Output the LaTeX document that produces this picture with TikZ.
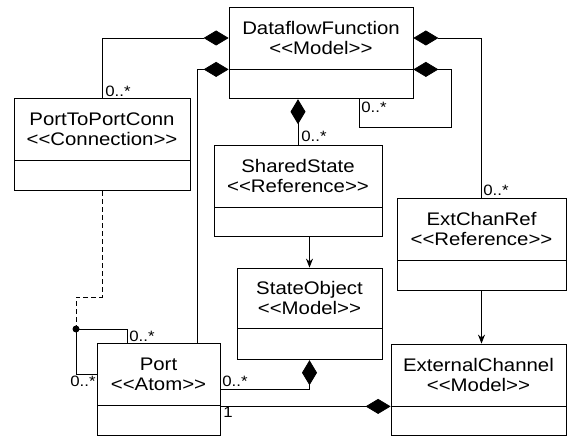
\documentclass[tikz,border=0pt]{standalone}
\usepackage{fontspec}
\newfontfamily\umlfont[FakeStretch=1.12]{Liberation Sans}
\usetikzlibrary{arrows.meta,positioning}

\tikzset{
  cls/.style={draw, inner sep=0pt, align=center, minimum height=62pt,
    font=\umlfont\fontsize{18.2}{20}\selectfont},
  clsbot/.style={draw, inner sep=0pt, minimum height=30pt},
  comp/.style={{Diamond[length=25pt,width=15pt]}-},
  dep/.style={-{Stealth[length=9pt,width=7pt]}},
  mult/.style={inner sep=0pt, font=\umlfont\fontsize{15}{15}\selectfont},
}

\begin{document}
\begin{tikzpicture}[x=1pt,y=-1pt,line width=0.8pt]
    \useasboundingbox (0,0) rectangle (571,438);
    % classes
    \node [cls, minimum width=184pt] (dff) at (321,38) {DataflowFunction\\<<Model>>};
    \node [clsbot, minimum width=184pt, minimum height=29pt, below=0pt of dff] (dffb) {};
    \node [cls, minimum width=176pt] (ptp) at (102,129) {PortToPortConn\\<<Connection>>};
    \node [clsbot, minimum width=176pt, below=0pt of ptp] (ptpb) {};
    \node [cls, minimum width=168pt] (ss) at (298,176) {SharedState\\<<Reference>>};
    \node [clsbot, minimum width=168pt, minimum height=29pt, below=0pt of ss] (ssb) {};
    \node [cls, minimum width=169pt] (ecr) at (481.5,229) {ExtChanRef\\<<Reference>>};
    \node [clsbot, minimum width=169pt, below=0pt of ecr] (ecrb) {};
    \node [cls, minimum width=145pt, minimum height=60pt] (so) at (309.5,298) {StateObject\\<<Model>>};
    \node [clsbot, minimum width=145pt, minimum height=31pt, below=0pt of so] (sob) {};
    \node [cls, minimum width=123pt] (port) at (158.5,374) {Port\\<<Atom>>};
    \node [clsbot, minimum width=123pt, below=0pt of port] (portb) {};
    \node [cls, minimum width=175pt] (ec) at (478.5,375) {ExternalChannel\\<<Model>>};
    \node [clsbot, minimum width=175pt, minimum height=29pt, below=0pt of ec] (ecb) {};

    % compositions
    \draw [comp] (dff.west) -| (ptp.north);
    \draw [comp] (dff.south west) -| ([xshift=-23pt]port.north east);
    \draw [comp] (ss.north |- dffb.south) -- (ss.north);
    \coordinate (loopin) at ([xshift=38pt]dffb.south);
    \draw [comp] (dff.south east) -- ++(38,0) -- ++(0,58) -| (loopin);
    \draw [comp] (dff.east) -| (ecr.north);
    \draw [comp] (sob.south) |- ([yshift=-15pt]port.east);
    \draw [comp] (ec.south west) -- (ec.south west -| port.east);

    % references
    \draw [dep] (ecrb.south) -- (ecrb.south |- ec.north);
    \draw [dep] (so.north |- ssb.south) -- (so.north);

    % port to port
    \coordinate (pjoin) at (76,329);
    \draw ([xshift=31pt]port.north west) |- (pjoin) |- (port.west);
    \fill (pjoin) circle (3.5pt);
    \draw [dashed, dash pattern=on 5pt off 3pt] (ptpb.south) -- ++(0,106) -| (pjoin);

    % multiplicities
    \node [mult, anchor=south west] (m1) at (105,97) {0..*};
    \node [mult, anchor=south west] (m2) at (301,142) {0..*};
    \node [mult, anchor=north west] (m3) at (361,102) {0..*};
    \node [mult, anchor=south west] (m4) at (483,196) {0..*};
    \node [mult, anchor=south west] (m5) at (129,342) {0..*};
    \node [mult, anchor=north east] (m6) at (96,376) {0..*};
    \node [mult, anchor=south west] (m7) at (222,387) {0..*};
    \node [mult, anchor=north west] (m8) at (223,407) {1};
\end{tikzpicture}
\end{document}
